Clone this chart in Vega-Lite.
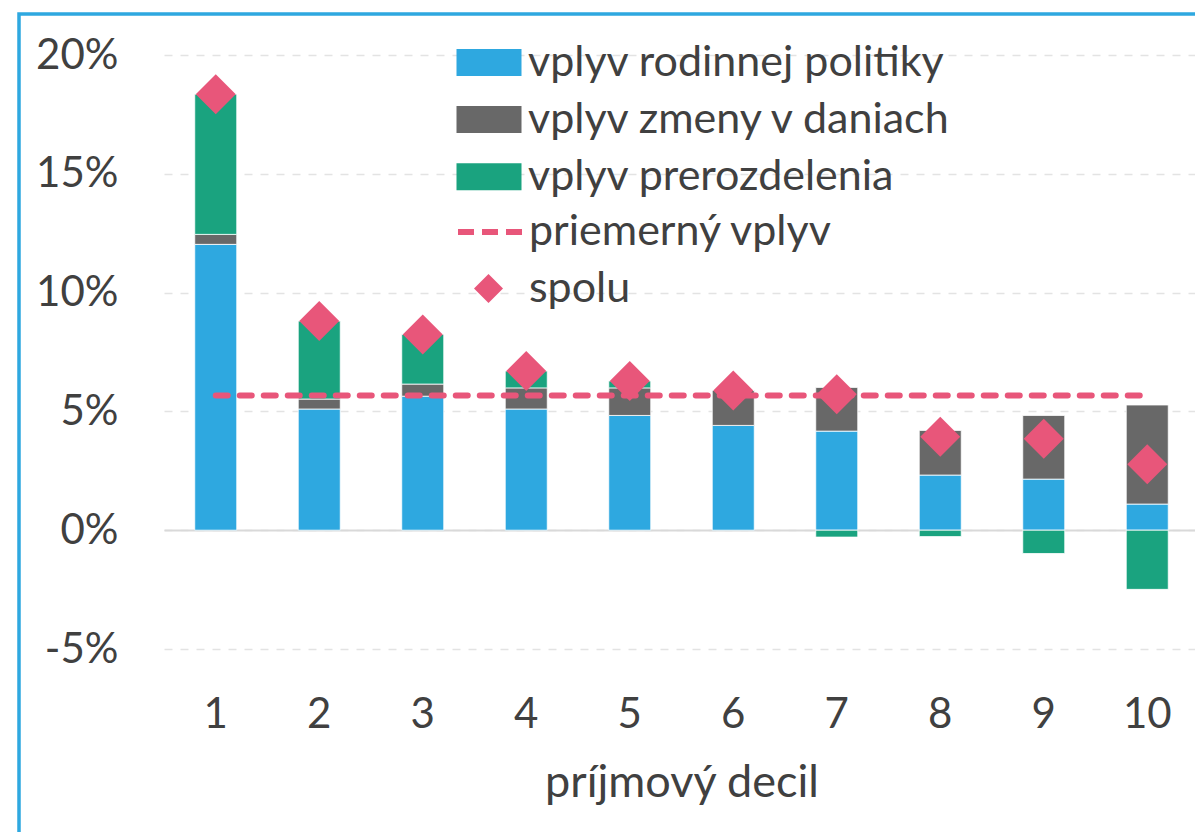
{
  "$schema": "https://vega.github.io/schema/vega-lite/v6.json",
  "width": 1176,
  "height": 818,
  "autosize": "none",
  "padding": {"left": 19, "top": 14, "right": 0, "bottom": 0},
  "background": "white",
  "config": {
    "view": {"stroke": "#2EA8E0", "strokeWidth": 3.5, "strokeDash": [1176, 1994, 818]},
    "font": "Lato",
    "legend": {
      "orient": "none",
      "padding": 0,
      "labelFont": "Lato",
      "labelFontSize": 43,
      "labelColor": "#404040",
      "labelLimit": 700,
      "rowPadding": 13.1
    }
  },
  "datasets": {
    "zlozky": [
      {"decil": 1, "zlozka": "vplyv rodinnej politiky", "poradie": 1, "hodnota": 0.1203},
      {"decil": 1, "zlozka": "vplyv zmeny v daniach", "poradie": 2, "hodnota": 0.0042},
      {"decil": 1, "zlozka": "vplyv prerozdelenia", "poradie": 3, "hodnota": 0.0590},
      {"decil": 2, "zlozka": "vplyv rodinnej politiky", "poradie": 1, "hodnota": 0.0510},
      {"decil": 2, "zlozka": "vplyv zmeny v daniach", "poradie": 2, "hodnota": 0.0042},
      {"decil": 2, "zlozka": "vplyv prerozdelenia", "poradie": 3, "hodnota": 0.0328},
      {"decil": 3, "zlozka": "vplyv rodinnej politiky", "poradie": 1, "hodnota": 0.0564},
      {"decil": 3, "zlozka": "vplyv zmeny v daniach", "poradie": 2, "hodnota": 0.0051},
      {"decil": 3, "zlozka": "vplyv prerozdelenia", "poradie": 3, "hodnota": 0.0209},
      {"decil": 4, "zlozka": "vplyv rodinnej politiky", "poradie": 1, "hodnota": 0.0510},
      {"decil": 4, "zlozka": "vplyv zmeny v daniach", "poradie": 2, "hodnota": 0.0089},
      {"decil": 4, "zlozka": "vplyv prerozdelenia", "poradie": 3, "hodnota": 0.0071},
      {"decil": 5, "zlozka": "vplyv rodinnej politiky", "poradie": 1, "hodnota": 0.0483},
      {"decil": 5, "zlozka": "vplyv zmeny v daniach", "poradie": 2, "hodnota": 0.0116},
      {"decil": 5, "zlozka": "vplyv prerozdelenia", "poradie": 3, "hodnota": 0.0029},
      {"decil": 6, "zlozka": "vplyv rodinnej politiky", "poradie": 1, "hodnota": 0.0441},
      {"decil": 6, "zlozka": "vplyv zmeny v daniach", "poradie": 2, "hodnota": 0.0147},
      {"decil": 6, "zlozka": "vplyv prerozdelenia", "poradie": 3, "hodnota": 0.0002},
      {"decil": 7, "zlozka": "vplyv rodinnej politiky", "poradie": 1, "hodnota": 0.0417},
      {"decil": 7, "zlozka": "vplyv zmeny v daniach", "poradie": 2, "hodnota": 0.0184},
      {"decil": 7, "zlozka": "vplyv prerozdelenia", "poradie": 3, "hodnota": -0.0029},
      {"decil": 8, "zlozka": "vplyv rodinnej politiky", "poradie": 1, "hodnota": 0.0232},
      {"decil": 8, "zlozka": "vplyv zmeny v daniach", "poradie": 2, "hodnota": 0.0188},
      {"decil": 8, "zlozka": "vplyv prerozdelenia", "poradie": 3, "hodnota": -0.0027},
      {"decil": 9, "zlozka": "vplyv rodinnej politiky", "poradie": 1, "hodnota": 0.0215},
      {"decil": 9, "zlozka": "vplyv zmeny v daniach", "poradie": 2, "hodnota": 0.0268},
      {"decil": 9, "zlozka": "vplyv prerozdelenia", "poradie": 3, "hodnota": -0.0098},
      {"decil": 10, "zlozka": "vplyv rodinnej politiky", "poradie": 1, "hodnota": 0.0110},
      {"decil": 10, "zlozka": "vplyv zmeny v daniach", "poradie": 2, "hodnota": 0.0417},
      {"decil": 10, "zlozka": "vplyv prerozdelenia", "poradie": 3, "hodnota": -0.0249}
    ],
    "spolu": [
      {"decil": 1, "spolu": 0.1835, "priemer": 0.0567},
      {"decil": 2, "spolu": 0.0880, "priemer": 0.0567},
      {"decil": 3, "spolu": 0.0824, "priemer": 0.0567},
      {"decil": 4, "spolu": 0.0670, "priemer": 0.0567},
      {"decil": 5, "spolu": 0.0628, "priemer": 0.0567},
      {"decil": 6, "spolu": 0.0588, "priemer": 0.0567},
      {"decil": 7, "spolu": 0.0572, "priemer": 0.0567},
      {"decil": 8, "spolu": 0.0393, "priemer": 0.0567},
      {"decil": 9, "spolu": 0.0385, "priemer": 0.0567},
      {"decil": 10, "spolu": 0.0278, "priemer": 0.0567}
    ]
  },
  "layer": [
    {
      "data": {"name": "zlozky"},
      "mark": {"type": "bar", "stroke": "white", "strokeWidth": 0.8},
      "encoding": {
        "x": {
          "field": "decil",
          "type": "ordinal",
          "scale": {"range": [145, 1180], "paddingInner": 0.594, "paddingOuter": 0.297},
          "axis": {
            "orient": "bottom",
            "offset": -302,
            "domain": true,
            "domainColor": "#D9D9D9",
            "domainWidth": 2,
            "ticks": false,
            "tickSize": 0,
            "grid": false,
            "labelAngle": 0,
            "labelPadding": 164,
            "labelFont": "Lato",
            "labelFontSize": 42,
            "labelColor": "#404040",
            "title": "príjmový decil",
            "titleFont": "Lato",
            "titleFontSize": 45,
            "titleFontWeight": "normal",
            "titleColor": "#404040",
            "titlePadding": 30
          }
        },
        "y": {
          "field": "hodnota",
          "type": "quantitative",
          "stack": "zero",
          "scale": {"domain": [-0.05, 0.2], "range": [635, 41], "nice": false, "zero": false},
          "axis": {
            "values": [-0.05, 0, 0.05, 0.1, 0.15, 0.2],
            "labelExpr": "(datum.value < 0 ? '-' : '') + format(abs(datum.value) * 100, '.0f') + '%'",
            "offset": -145,
            "domain": false,
            "ticks": false,
            "tickSize": 0,
            "labelPadding": 46,
            "labelFont": "Lato",
            "labelFontSize": 42,
            "labelColor": "#404040",
            "grid": true,
            "gridColor": "#E3E3E3",
            "gridDash": [8, 8],
            "gridWidth": 1.5,
            "title": null
          }
        },
        "fill": {
          "field": "zlozka",
          "type": "nominal",
          "scale": {
            "domain": ["vplyv rodinnej politiky", "vplyv zmeny v daniach", "vplyv prerozdelenia"],
            "range": ["#2EA8E0", "#686868", "#1AA37F"]
          },
          "legend": {
            "title": null,
            "legendX": 436,
            "legendY": 27,
            "symbolType": "M-1,-0.675H2.25V0.675H-1Z",
            "symbolSize": 1600,
            "symbolStrokeWidth": 0,
            "labelOffset": 30
          }
        },
        "order": {"field": "poradie", "type": "quantitative"}
      }
    },
    {
      "data": {"name": "spolu"},
      "mark": {"type": "line", "strokeWidth": 6, "strokeDash": [12, 12], "strokeCap": "round"},
      "encoding": {
        "x": {"field": "decil", "type": "ordinal"},
        "y": {"field": "priemer", "type": "quantitative"},
        "stroke": {
          "datum": "priemerný vplyv",
          "scale": {"range": ["#E8567A"]},
          "legend": {
            "title": null,
            "legendX": 436,
            "legendY": 195,
            "symbolType": "M-1,0H2.25",
            "symbolSize": 1600,
            "symbolStrokeWidth": 6,
            "symbolDash": [16, 8],
            "symbolFillColor": "transparent",
            "labelOffset": 28
          }
        }
      }
    },
    {
      "data": {"name": "spolu"},
      "mark": {"type": "point", "filled": true, "size": 1600, "opacity": 1, "color": "#E8567A"},
      "encoding": {
        "x": {"field": "decil", "type": "ordinal"},
        "y": {"field": "spolu", "type": "quantitative"},
        "shape": {
          "datum": "spolu",
          "scale": {"range": ["diamond"]},
          "legend": {
            "title": null,
            "legendX": 448,
            "legendY": 253,
            "symbolSize": 841,
            "symbolFillColor": "#E8567A",
            "symbolStrokeWidth": 0,
            "labelOffset": 19
          }
        }
      }
    }
  ]
}
